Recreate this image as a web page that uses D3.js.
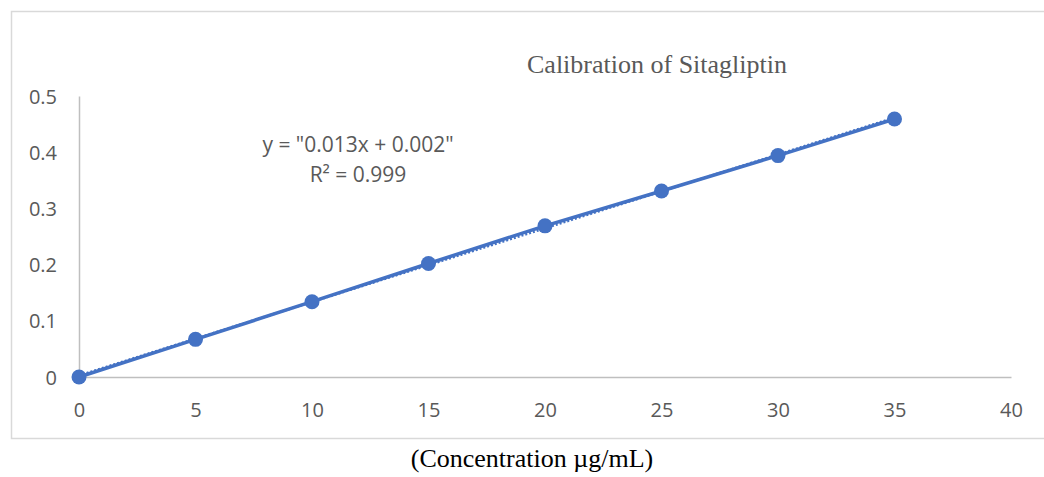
<!DOCTYPE html>
<html>
<head>
<meta charset="utf-8">
<script src="https://cdn.jsdelivr.net/npm/d3@7"></script>
<style>
  html, body { margin: 0; padding: 0; background: #ffffff; }
  svg { display: block; }
</style>
</head>
<body>
<svg id="chart" width="1044" height="477"></svg>
<script>
// ---- data ----
const concentrations = [0, 5, 10, 15, 20, 25, 30, 35];
const absorbance = [0, 0.067, 0.134, 0.202, 0.269, 0.331, 0.394, 0.459];
const xTicks = [0, 5, 10, 15, 20, 25, 30, 35, 40];
const yTicks = [0, 0.1, 0.2, 0.3, 0.4, 0.5];
const titleText = "Calibration of Sitagliptin";
const xLabelText = "(Concentration \u00B5g/mL)";
const equationLines = ['y = "0.013x + 0.002"', 'R\u00B2 = 0.999'];

const svg = d3.select("#chart");
const blue = "#4472C4";
const axisGray = "#bfbfbf";
const textGray = "#595959";

// chart border
svg.append("rect")
  .attr("x", 11.5).attr("y", 11.5)
  .attr("width", 1040).attr("height", 427)
  .attr("fill", "#ffffff")
  .attr("stroke", "#d9d9d9").attr("stroke-width", 1.5);

const x = d3.scaleLinear().domain([0, 40]).range([79, 1011]);
const y = d3.scaleLinear().domain([0, 0.5]).range([377, 96]);

// axes
const xAxis = d3.axisBottom(x).tickValues(xTicks).tickSize(0).tickPadding(0).tickFormat(d3.format("d"));
const gx = svg.append("g").attr("transform", `translate(0,${y(0)})`).call(xAxis);
gx.select(".domain").attr("stroke", axisGray).attr("stroke-width", 1.5);
gx.selectAll("text")
  .attr("dy", null).attr("y", 40)
  .attr("fill", textGray)
  .style("font-family", "'Open Sans', sans-serif")
  .style("font-size", "20px");

const yAxis = d3.axisLeft(y).tickValues(yTicks).tickSize(0).tickPadding(0).tickFormat(d => d === 0 ? "0" : d3.format(".1f")(d));
const gy = svg.append("g").attr("transform", `translate(${x(0)},0)`).call(yAxis);
gy.select(".domain").attr("stroke", axisGray).attr("stroke-width", 1.5);
gy.selectAll("text")
  .attr("x", -22).attr("dy", "0.35em")
  .attr("fill", textGray)
  .style("font-family", "'Open Sans', sans-serif")
  .style("font-size", "20px");

// linear trendline (least squares of the data)
const n = concentrations.length;
const mx = d3.mean(concentrations), my = d3.mean(absorbance);
let sxy = 0, sxx = 0;
for (let i = 0; i < n; i++) {
  sxy += (concentrations[i] - mx) * (absorbance[i] - my);
  sxx += (concentrations[i] - mx) ** 2;
}
const slope = sxy / sxx, intercept = my - slope * mx;
const xExt = d3.extent(concentrations);
svg.append("line")
  .attr("x1", x(xExt[0])).attr("y1", y(slope * xExt[0] + intercept))
  .attr("x2", x(xExt[1])).attr("y2", y(slope * xExt[1] + intercept))
  .attr("stroke", blue).attr("stroke-width", 2.5)
  .attr("stroke-dasharray", "2 2");

// data line
const pts = concentrations.map((c, i) => [c, absorbance[i]]);
svg.append("path")
  .datum(pts)
  .attr("fill", "none")
  .attr("stroke", blue).attr("stroke-width", 3.5)
  .attr("d", d3.line().x(d => x(d[0])).y(d => y(d[1])));

svg.selectAll("circle.pt")
  .data(pts).enter().append("circle")
  .attr("class", "pt")
  .attr("cx", d => x(d[0])).attr("cy", d => y(d[1]))
  .attr("r", 7.5).attr("fill", blue);

// title
svg.append("text")
  .attr("x", 657).attr("y", 73)
  .attr("text-anchor", "middle")
  .attr("fill", textGray)
  .style("font-family", "'Liberation Serif', 'Times New Roman', serif")
  .style("font-size", "26px")
  .text(titleText);

// equation
const eq = svg.append("text")
  .attr("text-anchor", "middle")
  .attr("fill", textGray)
  .style("font-family", "'Open Sans', sans-serif")
  .style("font-size", "21px");
equationLines.forEach((t, i) => {
  eq.append("tspan").attr("x", 358).attr("y", 152 + i * 30).text(t);
});

// x label
svg.append("text")
  .attr("x", 532).attr("y", 467)
  .attr("text-anchor", "middle")
  .attr("fill", "#000000")
  .style("font-family", "'Liberation Serif', 'Times New Roman', serif")
  .style("font-size", "26px")
  .text(xLabelText);
</script>
</body>
</html>
